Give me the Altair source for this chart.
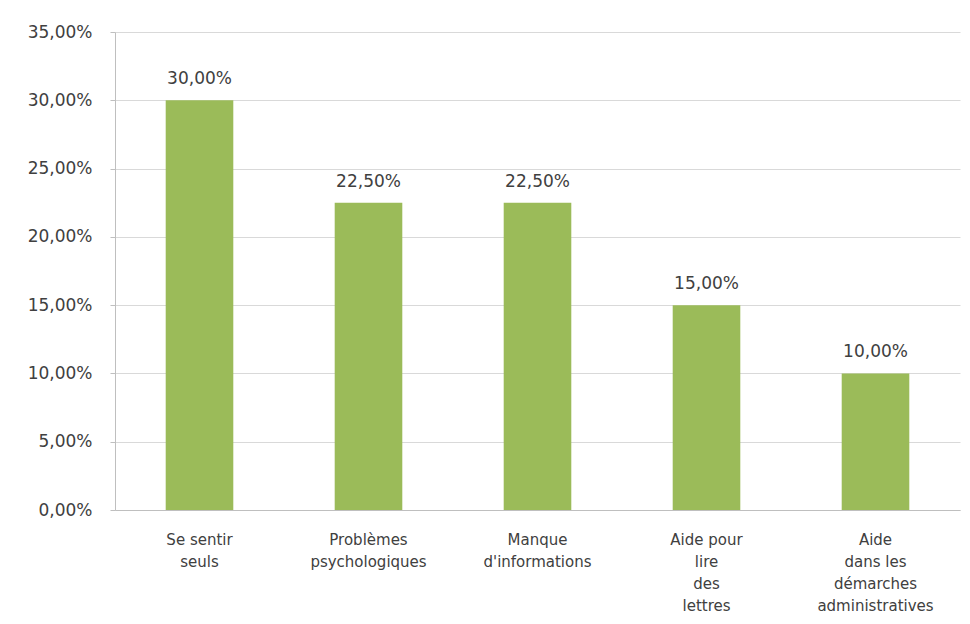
import altair as alt
import pandas as pd

categories = [
    "Se sentir seuls",
    "Problèmes psychologiques",
    "Manque d'informations",
    "Aide pour lire des lettres",
    "Aide dans les démarches administratives",
]
label_lines = [
    ["Se sentir", "seuls"],
    ["Problèmes", "psychologiques"],
    ["Manque", "d'informations"],
    ["Aide pour", "lire", "des", "lettres"],
    ["Aide", "dans les", "démarches", "administratives"],
]
values = [0.30, 0.225, 0.225, 0.15, 0.10]
y_ticks = [0, 0.05, 0.10, 0.15, 0.20, 0.25, 0.30, 0.35]

df = pd.DataFrame({"cat": categories, "value": values})
df["label"] = [f"{v*100:.2f}%".replace(".", ",") for v in values]

label_map = {c: l for c, l in zip(categories, label_lines)}
label_expr = "{" + ", ".join(
    '"' + c.replace('"', '\\"') + '": [' + ", ".join('"' + s + '"' for s in l) + "]"
    for c, l in label_map.items()
) + "}[datum.value]"

FONT = "DejaVu Sans"
TXT = "#404040"

x = alt.X(
    "cat:N",
    sort=categories,
    scale=alt.Scale(paddingInner=0.6, paddingOuter=0.3),
    axis=alt.Axis(
        title=None,
        labelAngle=0,
        ticks=False,
        labelExpr=label_expr,
        labelFont=FONT,
        labelFontSize=15,
        labelColor=TXT,
        labelPadding=22,
        labelLineHeight=22,
        domainColor="#bfbfbf",
        labelLimit=200,
    ),
)

y = alt.Y(
    "value:Q",
    scale=alt.Scale(domain=[0, 0.35], nice=False),
    axis=alt.Axis(
        title=None,
        values=y_ticks,
        labelExpr="replace(format(datum.value, '.2%'), '.', ',')",
        labelFont=FONT,
        labelFontSize=17,
        labelColor=TXT,
        labelPadding=18,
        tickSize=5,
        tickColor="#bfbfbf",
        domainColor="#bfbfbf",
        gridColor="#d9d9d9",
    ),
)

bars = alt.Chart(df).mark_bar(color="#9BBB59").encode(x=x, y=y)
texts = alt.Chart(df).mark_text(
    dy=-12, font=FONT, fontSize=17, color=TXT, baseline="bottom"
).encode(x=alt.X("cat:N", sort=categories), y="value:Q", text="label:N")

chart = (
    alt.layer(bars, texts)
    .properties(
        width=845,
        height=478,
        autosize=alt.AutoSizeParams(type="none"),
        padding={"left": 107, "top": 24, "right": 2, "bottom": 110},
        background="white",
    )
    .configure_view(stroke=None)
)

chart.save("out.html", embed_options={"renderer": "svg", "actions": False})
